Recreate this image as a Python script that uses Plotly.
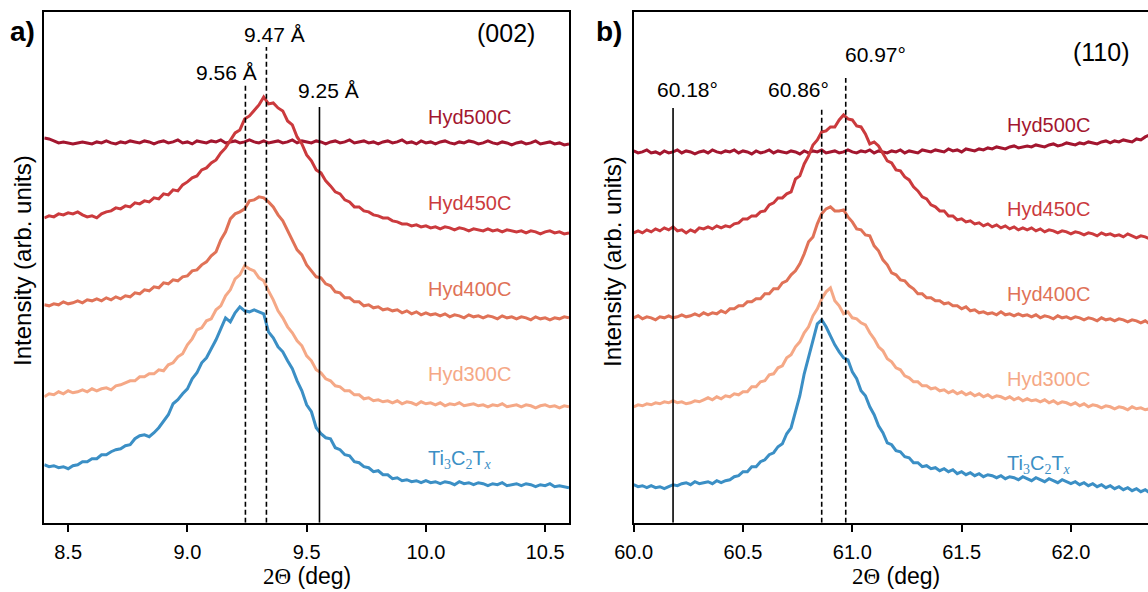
import math
import numpy as np
import plotly.graph_objects as go

# ---------------------------------------------------------------- data
# 2-theta sampling of the two scans (deg)
two_theta_002 = np.linspace(8.40, 10.60, 111)
two_theta_110 = np.linspace(60.00, 62.36, 119)

samples = ["Hyd500C", "Hyd450C", "Hyd400C", "Hyd300C", "Ti3C2Tx"]

# (002) region, stacked intensities (arb. units)
i002_hyd500 = [
    385, 384, 382, 380, 381, 380, 379, 380, 381, 380,
    379, 381, 380, 382, 380, 379, 381, 380, 382, 381,
    380, 382, 381, 379, 381, 382, 380, 381, 383, 380,
    381, 379, 382, 381, 380, 382, 381, 383, 380, 381,
    382, 380, 381, 383, 381, 380, 382, 380, 381, 382,
    380, 381, 383, 380, 382, 381, 380, 382, 381, 379,
    381, 382, 380, 381, 383, 380, 381, 382, 380, 381,
    379, 381, 382, 380, 381, 383, 380, 381, 379, 382,
    380, 381, 379, 381, 382, 380, 379, 381, 380, 382,
    381, 379, 380, 382, 380, 379, 381, 380, 378, 380,
    381, 379, 380, 382, 379, 380, 381, 379, 380, 378, 379]
i002_hyd450 = [
    305, 307, 306, 309, 308, 310, 309, 311, 308, 306,
    307, 305, 309, 311, 312, 315, 314, 317, 316, 320,
    319, 322, 321, 325, 324, 329, 328, 333, 332, 338,
    341, 345, 347, 353, 355, 360, 363, 370, 375, 383,
    390, 393, 404, 407, 413, 418, 426, 419, 420, 415,
    412, 402, 398, 386, 379, 368, 362, 353, 350, 342,
    337, 331, 329, 323, 321, 316, 316, 312, 311, 308,
    307, 305, 305, 302, 301, 299, 299, 297, 298, 296,
    297, 295, 296, 294, 296, 295, 293, 295, 294, 292,
    294, 293, 292, 294, 292, 293, 291, 293, 292, 291,
    292, 290, 292, 291, 289, 291, 292, 290, 291, 289, 290]
i002_hyd400 = [
    218, 217, 219, 218, 221, 219, 220, 222, 220, 223,
    222, 224, 222, 225, 223, 226, 224, 227, 226, 230,
    229, 233, 232, 236, 235, 240, 239, 243, 242, 246,
    247, 252, 253, 258, 261, 267, 271, 283, 291, 304,
    309, 311, 314, 322, 323, 326, 325, 321, 316, 308,
    302, 292, 283, 273, 268, 258, 252, 246, 245, 239,
    237, 231, 230, 225, 225, 221, 221, 217, 218, 215,
    216, 213, 214, 212, 213, 210, 212, 209, 211, 208,
    210, 208, 209, 207, 209, 206, 208, 207, 205, 208,
    206, 207, 205, 207, 206, 204, 207, 205, 206, 204,
    206, 205, 203, 206, 204, 205, 203, 205, 204, 206, 205]
i002_hyd300 = [
    126, 129, 128, 131, 129, 132, 130, 131, 133, 131,
    134, 132, 134, 135, 133, 137, 138, 140, 142, 142,
    146, 146, 149, 149, 153, 152, 158, 160, 166, 169,
    178, 184, 193, 195, 202, 204, 213, 217, 227, 233,
    244, 248, 257, 254, 252, 245, 242, 232, 223, 212,
    205, 196, 190, 182, 177, 167, 162, 153, 150, 144,
    142, 137, 136, 132, 132, 128, 128, 124, 125, 122,
    123, 121, 122, 120, 122, 119, 121, 120, 118, 121,
    119, 120, 118, 120, 117, 119, 118, 120, 117, 118,
    119, 117, 118, 116, 118, 117, 119, 116, 117, 118,
    116, 118, 117, 115, 117, 118, 116, 117, 115, 117, 116]
i002_ti3c2tx = [
    58, 56, 57, 55, 56, 54, 57, 58, 61, 61,
    64, 64, 68, 68, 71, 73, 74, 77, 78, 84,
    87, 88, 86, 90, 95, 102, 108, 119, 123, 129,
    134, 144, 150, 160, 165, 174, 183, 194, 205, 201,
    210, 216, 212, 211, 213, 211, 209, 191, 185, 176,
    171, 162, 154, 142, 132, 118, 111, 95, 89, 85,
    84, 75, 73, 68, 67, 61, 60, 56, 55, 51,
    52, 48, 48, 44, 45, 42, 43, 41, 42, 40,
    42, 40, 41, 39, 41, 40, 38, 41, 39, 40,
    38, 40, 39, 37, 39, 38, 40, 37, 38, 39,
    37, 39, 38, 36, 38, 37, 39, 36, 37, 36, 35]

# (110) region, stacked intensities (arb. units)
i110_hyd500 = [
    372, 370, 371, 373, 370, 371, 369, 372, 370, 371,
    373, 370, 372, 371, 369, 371, 372, 370, 373, 371,
    370, 372, 371, 373, 370, 372, 371, 369, 372, 370,
    371, 373, 370, 372, 371, 370, 372, 371, 369, 372,
    370, 372, 371, 373, 370, 371, 372, 370, 371, 373,
    371, 370, 372, 371, 373, 370, 372, 371, 370, 372,
    371, 373, 370, 372, 371, 370, 373, 372, 371, 373,
    372, 371, 374, 372, 373, 371, 374, 373, 372, 374,
    373, 375, 374, 376, 375, 374, 376, 377, 375, 376,
    377, 376, 378, 377, 376, 378, 379, 377, 378, 380,
    379, 378, 380, 379, 381, 380, 379, 381, 382, 380,
    382, 381, 383, 382, 381, 384, 383, 386, 388]
i110_hyd450 = [
    290, 292, 290, 293, 291, 294, 292, 295, 293, 296,
    292, 293, 290, 293, 291, 295, 294, 296, 294, 297,
    295, 297, 296, 299, 300, 304, 304, 307, 307, 311,
    312, 318, 320, 325, 325, 329, 331, 344, 347, 359,
    367, 378, 383, 391, 392, 396, 396, 403, 408, 404,
    403, 397, 396, 389, 379, 381, 377, 369, 362, 360,
    353, 352, 346, 343, 336, 332, 326, 324, 318, 316,
    312, 312, 307, 307, 303, 304, 301, 302, 299, 300,
    297, 299, 296, 298, 295, 297, 294, 296, 293, 295,
    293, 295, 292, 294, 291, 293, 292, 290, 292, 291,
    289, 291, 290, 288, 290, 289, 287, 290, 288, 289,
    287, 288, 286, 289, 287, 285, 287, 286, 284]
i110_hyd400 = [
    205, 207, 204, 206, 205, 203, 206, 205, 207, 205,
    206, 208, 206, 207, 209, 207, 210, 208, 210, 209,
    212, 210, 214, 214, 217, 217, 221, 221, 224, 224,
    229, 229, 234, 234, 240, 242, 248, 252, 259, 269,
    281, 286, 299, 309, 314, 316, 312, 312, 313, 306,
    301, 294, 293, 288, 287, 277, 272, 263, 258, 250,
    248, 243, 242, 237, 234, 229, 229, 225, 225, 222,
    222, 219, 220, 217, 217, 214, 216, 212, 213, 210,
    211, 209, 210, 208, 211, 208, 209, 207, 209, 207,
    208, 206, 208, 205, 207, 206, 204, 207, 205, 206,
    204, 206, 205, 203, 205, 204, 202, 205, 203, 204,
    202, 204, 203, 201, 203, 202, 200, 202, 199]
i110_hyd300 = [
    116, 118, 117, 119, 118, 120, 119, 121, 120, 122,
    120, 121, 119, 120, 122, 121, 123, 125, 123, 126,
    124, 127, 126, 129, 128, 131, 131, 136, 136, 141,
    142, 148, 149, 155, 157, 165, 168, 176, 181, 190,
    196, 207, 214, 224, 231, 235, 222, 217, 209, 211,
    205, 204, 200, 198, 190, 184, 176, 172, 164, 161,
    155, 153, 147, 145, 141, 141, 137, 137, 134, 135,
    132, 133, 130, 132, 129, 131, 128, 130, 127, 129,
    126, 128, 125, 127, 126, 124, 126, 123, 125, 122,
    124, 122, 123, 121, 123, 120, 122, 119, 121, 120,
    118, 120, 117, 119, 116, 118, 117, 115, 117, 116,
    114, 116, 115, 113, 116, 114, 115, 113, 114]
i110_ti3c2tx = [
    38, 36, 37, 35, 37, 35, 36, 34, 36, 38,
    37, 39, 40, 38, 41, 39, 40, 41, 39, 42,
    40, 42, 43, 46, 47, 51, 51, 56, 56, 61,
    63, 68, 70, 76, 79, 89, 95, 111, 127, 149,
    165, 183, 199, 203, 196, 187, 178, 171, 165, 163,
    151, 144, 132, 127, 116, 108, 97, 90, 80, 78,
    72, 71, 66, 65, 60, 60, 56, 57, 54, 55,
    52, 54, 51, 53, 49, 51, 48, 50, 47, 49,
    46, 48, 47, 45, 47, 44, 46, 45, 43, 46,
    44, 42, 45, 43, 41, 44, 42, 40, 43, 41,
    39, 41, 38, 40, 37, 39, 36, 38, 35, 37,
    34, 36, 33, 35, 32, 34, 31, 33, 30]

# reference positions
d_spacings_002 = [9.56, 9.47, 9.25]          # Å
peaks_110 = [60.18, 60.86, 60.97]           # deg
WAVELENGTH = 1.5406                          # Cu K-alpha1, Å

# ---------------------------------------------------------------- style
FONT = "Liberation Sans, Arial, sans-serif"
SERIF = "Liberation Serif, Times New Roman, serif"
colors = ["#a3162f", "#cb3a3d", "#e07257", "#f5a886", "#3b8fc5"]
label_html = ["Hyd500C", "Hyd450C", "Hyd400C", "Hyd300C",
              f'Ti<sub><span style="font-family:{SERIF}">3</span></sub>'
              f'C<sub><span style="font-family:{SERIF}">2</span></sub>'
              f'T<sub><span style="font-family:{SERIF}"><i>x</i></span></sub>']

W, H = 1148, 592
YDOM = [(592 - 522.7) / 592, (592 - 12) / 592]
XDOM_A = [44.3 / W, 569.0 / W]
XDOM_B = [633.7 / W, 1.0]
YRANGE = [0, 511]

series_002 = [i002_hyd500, i002_hyd450, i002_hyd400, i002_hyd300, i002_ti3c2tx]
series_110 = [i110_hyd500, i110_hyd450, i110_hyd400, i110_hyd300, i110_ti3c2tx]

fig = go.Figure()
for name, col, y in zip(samples, colors, series_002):
    fig.add_trace(go.Scatter(x=two_theta_002, y=y, mode="lines", name=name,
                             line=dict(color=col, width=3),
                             xaxis="x", yaxis="y", hoverinfo="skip"))
for name, col, y in zip(samples, colors, series_110):
    fig.add_trace(go.Scatter(x=two_theta_110, y=y, mode="lines", name=name,
                             line=dict(color=col, width=3),
                             xaxis="x2", yaxis="y2", hoverinfo="skip"))

shapes, annotations = [], []


def vline(xref, yref, x, top, dashed):
    shapes.append(dict(type="line", xref=xref, yref=yref, x0=x, x1=x,
                       y0=YRANGE[0], y1=top, layer="above",
                       line=dict(color="black", width=1.6,
                                 dash="5px,3px" if dashed else "solid")))


def text(xref, yref, x, y, s, size, color="black", **kw):
    annotations.append(dict(xref=xref, yref=yref, x=x, y=y, text=s,
                            showarrow=False, xanchor=kw.pop("xanchor", "center"),
                            yanchor="middle",
                            font=dict(family=FONT, size=size, color=color), **kw))


# (002): lines at the Bragg angle of each interlayer spacing
tops_002 = [440, 476, 416]
dashed_002 = [True, True, False]
label_pos_002 = [(9.166, 450), (9.367, 488), (9.590, 432)]
for d, top, dsh, (lx, ly) in zip(d_spacings_002, tops_002, dashed_002, label_pos_002):
    tt = 2 * math.degrees(math.asin(WAVELENGTH / (2 * d)))
    vline("x", "y", tt, top, dsh)
    text("x", "y", lx, ly, f"{d:.2f} Å", 21)

# (110)
tops_110 = [415, 415, 445]
dashed_110 = [False, True, True]
label_pos_110 = [(60.248, 433), (60.752, 433), (61.104, 468)]
for p, top, dsh, (lx, ly) in zip(peaks_110, tops_110, dashed_110, label_pos_110):
    vline("x2", "y2", p, top, dsh)
    text("x2", "y2", lx, ly, f"{p:.2f}°", 21)

# sample labels
ylab_002 = [406, 320, 234, 149, 63]
ylab_110 = [398, 314, 229, 144, 58]
for s, col, ya, yb in zip(label_html, colors, ylab_002, ylab_110):
    text("x", "y", 10.0, ya, s, 20, col, xanchor="left")
    text("x2", "y2", 61.7, yb, s, 20, col, xanchor="left")

# reflections
text("x", "y", 10.336, 490, "(002)", 25)
text("x2", "y2", 62.142, 471, "(110)", 25)

# panel letters
for lx, letter in ((22, "a)"), (609, "b)")):
    annotations.append(dict(xref="paper", yref="paper", x=lx / W, y=1 - 31 / H,
                            text=f"<b>{letter}</b>", showarrow=False, xanchor="center",
                            yanchor="middle",
                            font=dict(family=FONT, size=28, color="black")))

# axis titles
xt = f'<span style="font-family:{SERIF}">2Θ</span> (deg)'
for cx in (306.7 / W, 896.0 / W):
    annotations.append(dict(xref="paper", yref="paper", x=cx, y=1 - 576 / H,
                            text=xt, showarrow=False, xanchor="center", yanchor="middle",
                            font=dict(family=FONT, size=23, color="black")))
for cx in (22 / W, 612 / W):
    annotations.append(dict(xref="paper", yref="paper", x=cx, y=1 - 261 / H,
                            text="Intensity (arb. units)", textangle=-90,
                            showarrow=False, xanchor="center", yanchor="middle",
                            font=dict(family=FONT, size=24, color="black")))

xaxis_common = dict(showline=True, linewidth=2, linecolor="black", mirror=True,
                    ticks="outside", ticklen=7, tickwidth=2, tickcolor="black",
                    showgrid=False, zeroline=False, tickformat=".1f", dtick=0.5,
                    tickfont=dict(family=FONT, size=20, color="black"),
                    ticklabelstandoff=3, automargin=False)
yaxis_common = dict(showline=True, linewidth=2, linecolor="black",
                    showticklabels=False, ticks="", showgrid=False,
                    zeroline=False, range=YRANGE, domain=YDOM, automargin=False)

fig.update_layout(
    template="none",
    width=W, height=H,
    margin=dict(l=0, r=0, t=0, b=0, pad=0, autoexpand=False),
    paper_bgcolor="white", plot_bgcolor="white",
    showlegend=False,
    xaxis=dict(domain=XDOM_A, range=[8.4, 10.6], tick0=8.5, anchor="y", **xaxis_common),
    yaxis=dict(anchor="x", mirror=True, **yaxis_common),
    xaxis2=dict(domain=XDOM_B, range=[60.0, 62.3527], tick0=60.0, anchor="y2", **xaxis_common),
    yaxis2=dict(anchor="x2", mirror=False, **yaxis_common),
    shapes=shapes,
    annotations=annotations,
)

fig.write_html("out.html")
